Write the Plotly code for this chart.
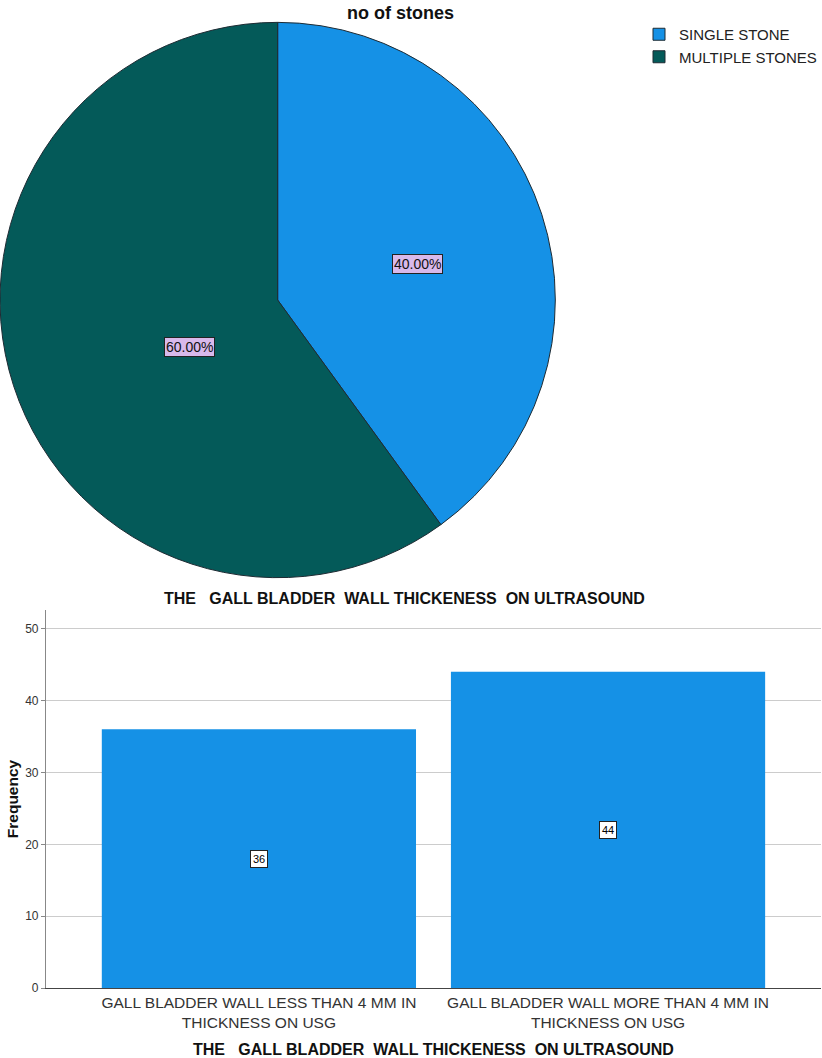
import math
import plotly.graph_objects as go

# pie data
stone_labels = ["SINGLE STONE", "MULTIPLE STONES"]
stone_pct = [40.0, 60.0]
stone_colors = ["#1591E6", "#045A59"]

# bar data
wall_cats = ["GALL BLADDER WALL LESS THAN 4 MM IN<br>THICKNESS ON USG",
             "GALL BLADDER WALL MORE THAN 4 MM IN<br>THICKNESS ON USG"]
wall_freq = [36, 44]
y_ticks = [0, 10, 20, 30, 40, 50]

FONT = "Arial, Liberation Sans, sans-serif"
W, H = 822, 1058
SY = 1.0067  # small vertical correction seen in the capture


def px_y(y):
    # pixel from top -> paper y
    return 1 - y * SY / H


# pie placement
pie_dom_x = [0, 556 / W]
pie_dom_y = [px_y(578), px_y(22)]

fig = go.Figure()

fig.add_trace(go.Pie(
    labels=stone_labels,
    values=stone_pct,
    sort=False,
    direction="clockwise",
    rotation=0,
    marker=dict(colors=stone_colors, line=dict(color="#1E2B33", width=1)),
    textinfo="none",
    hoverinfo="label+percent",
    domain=dict(x=pie_dom_x, y=pie_dom_y),
    showlegend=True,
))

fig.add_trace(go.Bar(
    x=[0, 1],
    y=wall_freq,
    width=0.9,
    marker=dict(color="#1591E6", line=dict(width=0)),
    showlegend=False,
    hoverinfo="y",
))

# boxed percentage labels, placed at each slice's mid angle
cx = (pie_dom_x[0] + pie_dom_x[1]) / 2
cy = (pie_dom_y[0] + pie_dom_y[1]) / 2
rx = (pie_dom_x[1] - pie_dom_x[0]) / 2
ry = (pie_dom_y[1] - pie_dom_y[0]) / 2
total = sum(stone_pct)
start = 0.0
annotations = []
for v, frac in zip(stone_pct, [0.53, 0.43]):
    mid = (start + v / 2) / total * 2 * math.pi
    start += v
    annotations.append(dict(
        x=cx + frac * rx * math.sin(mid),
        y=cy + frac * ry * math.cos(mid),
        xref="paper", yref="paper",
        text="%.2f%%" % v, showarrow=False,
        font=dict(family=FONT, size=14, color="#111111"),
        bgcolor="#D8B9EB", bordercolor="#222222", borderwidth=1, borderpad=1,
    ))

# boxed frequency labels in bar middles
for i, v in enumerate(wall_freq):
    annotations.append(dict(
        x=i, y=v / 2, xref="x", yref="y",
        text=str(v), showarrow=False,
        font=dict(family=FONT, size=11, color="#000000"),
        bgcolor="#FFFFFF", bordercolor="#222222", borderwidth=1, borderpad=2,
    ))

annotations.append(dict(
    x=401 / W, y=px_y(1), xref="paper", yref="paper", yanchor="top",
    text="<b>no of stones</b>", showarrow=False,
    font=dict(family=FONT, size=18, color="#111111"),
))
annotations.append(dict(
    x=405 / W, y=px_y(598), xref="paper", yref="paper", yanchor="middle",
    text="<b>THE   GALL BLADDER  WALL THICKENESS  ON ULTRASOUND</b>",
    showarrow=False, font=dict(family=FONT, size=16, color="#111111"),
))

fig.update_layout(
    width=W, height=H,
    margin=dict(l=0, r=0, t=0, b=0),
    paper_bgcolor="white", plot_bgcolor="white",
    font=dict(family=FONT, color="#222222"),
    legend=dict(
        x=640 / W, y=px_y(18), xanchor="left", yanchor="top",
        font=dict(family=FONT, size=15, color="#222222"),
        itemwidth=30, tracegroupgap=0,
    ),
    annotations=annotations,
    xaxis=dict(
        domain=[46 / W, 1],
        range=[-0.61, 1.61],
        tickvals=[0, 1], ticktext=wall_cats,
        tickfont=dict(family=FONT, size=15.5, color="#333333"),
        showgrid=False, zeroline=False,
        showline=True, linecolor="#444444", linewidth=1,
        ticks="",
        title=dict(text="<b>THE   GALL BLADDER  WALL THICKENESS  ON ULTRASOUND</b>",
                   font=dict(family=FONT, size=16, color="#111111"), standoff=14),
    ),
    yaxis=dict(
        domain=[px_y(988), px_y(610)],
        range=[0, 52.6],
        tickvals=y_ticks,
        tickfont=dict(family=FONT, size=12, color="#333333"),
        showgrid=True, gridcolor="#CCCCCC", gridwidth=1,
        zeroline=False,
        showline=True, linecolor="#888888", linewidth=1,
        ticks="outside", ticklen=4, tickcolor="#888888",
        title=dict(text="<b>Frequency</b>",
                   font=dict(family=FONT, size=15.5, color="#111111"), standoff=2),
    ),
)

fig.write_html("out.html", config={"displayModeBar": False},
               post_script="document.body.style.margin='0px';")
